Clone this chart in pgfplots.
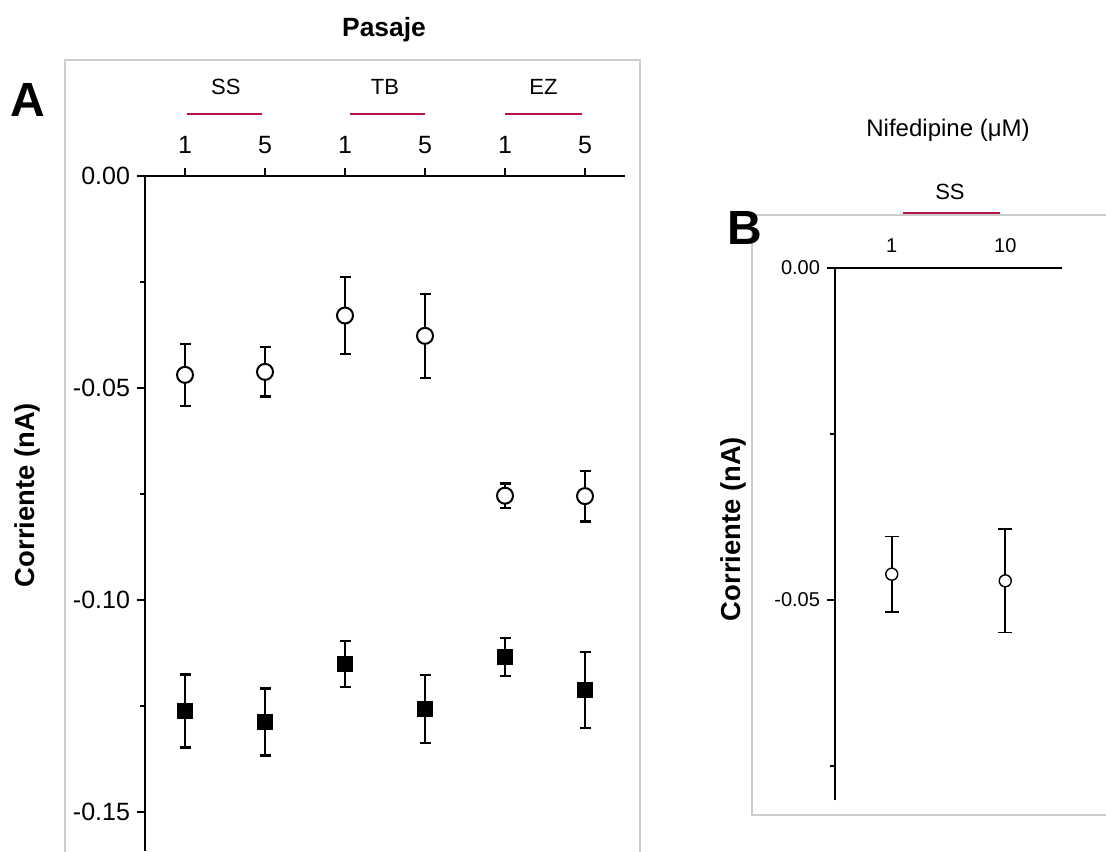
\documentclass[border=0pt]{standalone}
\usepackage{pgfplots}
\pgfplotsset{compat=1.18}
\usepackage{pgfplotstable}
\usepackage{fontspec}
\setmainfont{Liberation Sans}
\definecolor{grpred}{RGB}{180,20,70}
\definecolor{framegray}{RGB}{205,205,205}

\pgfplotstableread{
x y e
1 -0.0469 0.0073
2 -0.0462 0.0058
3 -0.0329 0.0091
4 -0.0377 0.0099
5 -0.0754 0.0029
6 -0.0755 0.0060
}\circA

\pgfplotstableread{
x y e
1 -0.1262 0.0086
2 -0.1288 0.0079
3 -0.1151 0.0054
4 -0.1257 0.0080
5 -0.1134 0.0045
6 -0.1212 0.0090
}\squareA

\pgfplotstableread{
x y e
1 -0.0461 0.0057
2 -0.0471 0.0078
}\circB

\begin{document}
\begin{tikzpicture}
\useasboundingbox (0,0) rectangle (553pt,425.5pt);
\draw[framegray, line width=0.7pt] (32.5pt,-5pt) rectangle (320pt,395.5pt);
\draw[framegray, line width=0.7pt] (376pt,18pt) rectangle (560pt,318pt);

\node[font=\fontsize{13.2}{15}\selectfont\bfseries] at (192pt,410.5pt) {Pasaje};
\node[font=\fontsize{24}{28}\selectfont\bfseries] at (14pt,375.5pt) {A};
\node[font=\fontsize{13.7}{16}\selectfont\bfseries, rotate=90] at (13.5pt,178pt) {Corriente (nA)};

\node[font=\fontsize{12}{14}\selectfont] at (474pt,360.5pt) {Nifedipine (μM)};
\node[font=\fontsize{24}{28}\selectfont\bfseries] at (372.5pt,311.5pt) {B};
\node[font=\fontsize{13.7}{16}\selectfont\bfseries, rotate=90] at (366.5pt,161pt) {Corriente (nA)};

\begin{axis}[
  at={(72.5pt,337.5pt)}, anchor=north west,
  scale only axis, width=240pt, height=337.5pt,
  xmin=0.5, xmax=6.5, ymin=-0.1592, ymax=0,
  axis x line=top, axis y line=left,
  axis line style={-, line width=1pt, black},
  xtick={1,2,3,4,5,6}, xticklabels={1,5,1,5,1,5},
  xticklabel style={yshift=3.5pt},
  ytick={-0.15,-0.1,-0.05,0}, yticklabels={-0.15,-0.10,-0.05,0.00},
  minor ytick={-0.125,-0.075,-0.025},
  scaled y ticks=false,
  tick align=outside, major tick length=4pt, minor tick length=2.5pt,
  every tick/.style={line width=0.9pt, black},
  ticklabel style={font=\fontsize{12.5}{14}\selectfont},
  clip=false,
]
\addplot[only marks, mark=*, mark size=4pt, mark options={fill=white, draw=black, line width=1pt},
  error bars/.cd, y dir=both, y explicit,
  error bar style={line width=1.15pt, black},
  error mark options={rotate=90, mark size=2.75pt, line width=1.15pt, black}]
  table[x=x, y=y, y error=e] {\circA};
\addplot[only marks, mark=square*, mark size=3.75pt, mark options={fill=black, draw=black},
  error bars/.cd, y dir=both, y explicit,
  error bar style={line width=1.15pt, black},
  error mark options={rotate=90, mark size=2.75pt, line width=1.15pt, black}]
  table[x=x, y=y, y error=e] {\squareA};
\draw[grpred, line width=1pt] (axis cs:1.02,0.0146) -- (axis cs:1.96,0.0146);
\draw[grpred, line width=1pt] (axis cs:3.06,0.0146) -- (axis cs:4.0,0.0146);
\draw[grpred, line width=1pt] (axis cs:5.0,0.0146) -- (axis cs:5.96,0.0146);
\node[font=\fontsize{11}{13}\selectfont] at (axis cs:1.51,0.021) {SS};
\node[font=\fontsize{11}{13}\selectfont] at (axis cs:3.5,0.021) {TB};
\node[font=\fontsize{11}{13}\selectfont] at (axis cs:5.48,0.021) {EZ};
\end{axis}

\begin{axis}[
  at={(417.5pt,291.5pt)}, anchor=north west,
  scale only axis, width=113.5pt, height=266pt,
  xmin=0.5, xmax=2.5, ymin=-0.0801, ymax=0,
  axis x line=top, axis y line=left,
  axis line style={-, line width=0.8pt, black},
  xtick={1,2}, xticklabels={1,10},
  x tick style={draw=none},
  ytick={-0.05,0}, yticklabels={-0.05,0.00},
  minor ytick={-0.075,-0.025},
  scaled y ticks=false,
  tick align=outside, major tick length=4pt, minor tick length=2.5pt,
  y tick style={line width=0.7pt, black},
  ticklabel style={font=\fontsize{10}{12}\selectfont},
  clip=false,
]
\addplot[only marks, mark=*, mark size=3pt, mark options={fill=white, draw=black, line width=0.7pt},
  error bars/.cd, y dir=both, y explicit,
  error bar style={line width=0.8pt, black},
  error mark options={rotate=90, mark size=3.5pt, line width=0.8pt, black}]
  table[x=x, y=y, y error=e] {\circB};
\draw[grpred, line width=1pt] (axis cs:1.1,0.0083) -- (axis cs:1.955,0.0083);
\node[font=\fontsize{11}{13}\selectfont] at (axis cs:1.513,0.0115) {SS};
\end{axis}
\end{tikzpicture}
\end{document}
